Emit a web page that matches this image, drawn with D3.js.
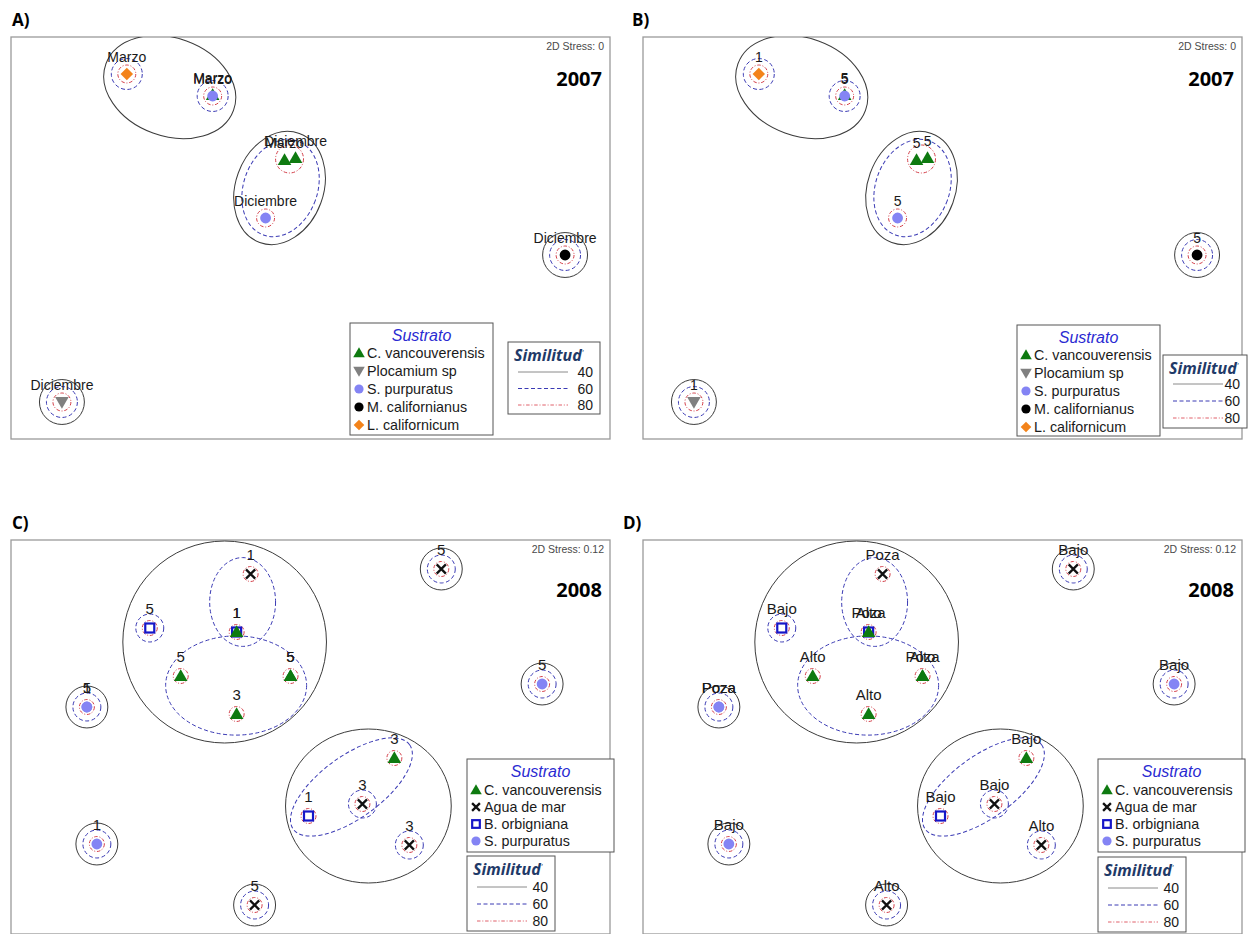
<!DOCTYPE html>
<html>
<head>
<meta charset="utf-8">
<script src="https://cdn.jsdelivr.net/npm/d3@7"></script>
<style>
  body { margin: 0; background: #fff; }
  svg { display: block; }
</style>
</head>
<body>
<svg id="chart" width="1249" height="934"></svg>
<script>
// ---------- 2007 nMDS ordination (panels A and B) ----------
const sustrato2007 = ["C. vancouverensis", "Plocamium sp", "S. purpuratus", "M. californianus", "L. californicum"];
const sample2007Species = ["L. californicum", "C. vancouverensis", "S. purpuratus", "C. vancouverensis",
                           "C. vancouverensis", "S. purpuratus", "M. californianus", "Plocamium sp"];
const sample2007X = [-0.92, -0.49, -0.49, -0.13, -0.075, -0.225, 1.275, -1.245];
const sample2007Y = [0.815, 0.71, 0.705, 0.385, 0.395, 0.095, -0.09, -0.825];
const sample2007Month = ["Marzo", "Marzo", "Marzo", "Marzo", "Diciembre", "Diciembre", "Diciembre", "Diciembre"];
const sample2007Count = ["1", "5", "5", "5", "5", "5", "5", "1"];

// groups enclosing several samples: [centre x, centre y, semi-axis x, semi-axis y, tilt deg, similarity %]
const groups2007 = [
  [-0.705, 0.75, 0.34, 0.245, 20, 40],
  [-0.155, 0.245, 0.22, 0.29, 20, 40],
  [-0.15, 0.245, 0.185, 0.25, 20, 60],
  [-0.105, 0.39, 0.07, 0.07, 0, 80]
];
// samples that form their own group at a given similarity
const ring2007Sample = [0, 0, 2, 2, 5, 6, 6, 6, 7, 7, 7];
const ring2007Level  = [60, 80, 60, 80, 80, 40, 60, 80, 40, 60, 80];
const ring2007Radius = {40: 0.1125, 60: 0.0775, 80: 0.045};

// ---------- 2008 nMDS ordination (panels C and D) ----------
const sustrato2008 = ["C. vancouverensis", "Agua de mar", "B. orbigniana", "S. purpuratus"];
const sample2008Species = ["Agua de mar", "B. orbigniana", "B. orbigniana", "C. vancouverensis",
  "C. vancouverensis", "C. vancouverensis", "C. vancouverensis", "C. vancouverensis",
  "S. purpuratus", "S. purpuratus", "Agua de mar", "S. purpuratus", "C. vancouverensis",
  "Agua de mar", "B. orbigniana", "Agua de mar", "S. purpuratus", "Agua de mar"];
const sample2008X = [-0.30, -0.805, -0.37, -0.37, -0.65, -0.10, -0.10, -0.37, -1.12, -1.12,
                     0.655, 1.16, 0.42, 0.26, -0.01, 0.495, -1.07, -0.28];
const sample2008Y = [0.83, 0.56, 0.54, 0.54, 0.32, 0.32, 0.32, 0.13, 0.165, 0.165,
                     0.855, 0.28, -0.09, -0.32, -0.38, -0.525, -0.52, -0.825];
const sample2008Count = ["1", "5", "1", "1", "5", "5", "5", "3", "1", "5",
                         "5", "5", "3", "3", "1", "3", "1", "5"];
const sample2008Zone = ["Poza", "Bajo", "Poza", "Alto", "Alto", "Poza", "Alto", "Alto", "Poza", "Poza",
                        "Bajo", "Bajo", "Bajo", "Bajo", "Bajo", "Alto", "Bajo", "Alto"];

const groups2008 = [
  [-0.43, 0.49, 0.51, 0.505, 0, 40],
  [-0.34, 0.69, 0.165, 0.222, 0, 60],
  [-0.3725, 0.2725, 0.353, 0.248, 0, 60],
  [0.29, -0.33, 0.415, 0.385, 0, 40],
  [0.205, -0.235, 0.36, 0.155, -36, 60]
];
const ring2008Sample = [0, 1, 1, 2, 4, 5, 7, 8, 8, 8, 10, 10, 10, 11, 11, 11, 12, 13, 13, 14, 15, 15, 16, 16, 16, 17, 17, 17];
const ring2008Level  = [80, 60, 80, 80, 80, 80, 80, 40, 60, 80, 40, 60, 80, 40, 60, 80, 80, 60, 80, 80, 60, 80, 40, 60, 80, 40, 60, 80];
const ring2008Radius = {40: 0.105, 60: 0.07, 80: 0.0375};

// similarity levels shown in the legend
const similitudLevels = [40, 60, 80];

// ---------- styling ----------
const FONT = "'Liberation Sans', Arial, sans-serif";
const HEAD = "'Open Sans', 'Liberation Sans', sans-serif";
const levelStyle = {
  40: {stroke: "#3c3c3c", dash: null, legend: "#8a8a8a"},
  60: {stroke: "#3a3ab4", dash: "4,2.5", legend: "#3a3ab4"},
  80: {stroke: "#d4404a", dash: "3.5,1.8,1,1.8", legend: "#e0606a"}
};
const speciesStyle = {
  "C. vancouverensis": {shape: "tri", fill: "#0e7a10"},
  "Plocamium sp": {shape: "tridown", fill: "#808080"},
  "S. purpuratus": {shape: "circle", fill: "#8484f4"},
  "M. californianus": {shape: "circle", fill: "#000"},
  "L. californicum": {shape: "diamond", fill: "#f3831a"},
  "Agua de mar": {shape: "x", fill: "#111"},
  "B. orbigniana": {shape: "square", fill: "#1616c8"}
};

const svg = d3.select("#chart");

function drawMarker(g, species, px, py, k) {
  const st = speciesStyle[species];
  if (st.shape === "tri") {
    g.append("path").attr("d", d3.symbol(d3.symbolTriangle, 80 * k * k)())
      .attr("transform", `translate(${px},${py + 1})`).attr("fill", st.fill);
  } else if (st.shape === "tridown") {
    g.append("path").attr("d", d3.symbol(d3.symbolTriangle, 80 * k * k)())
      .attr("transform", `translate(${px},${py - 1}) rotate(180)`).attr("fill", st.fill);
  } else if (st.shape === "circle") {
    g.append("path").attr("d", d3.symbol(d3.symbolCircle, 92 * k * k)())
      .attr("transform", `translate(${px},${py})`).attr("fill", st.fill);
  } else if (st.shape === "diamond") {
    g.append("path").attr("d", d3.symbol(d3.symbolSquare, 78 * k * k)())
      .attr("transform", `translate(${px},${py}) rotate(45)`).attr("fill", st.fill);
  } else if (st.shape === "square") {
    const s = 9 * k;
    g.append("rect").attr("x", px - s / 2).attr("y", py - s / 2).attr("width", s).attr("height", s)
      .attr("fill", "#fff").attr("stroke", st.fill).attr("stroke-width", 2.2);
  } else if (st.shape === "x") {
    const h = 4.6 * k;
    g.append("path").attr("d", `M${px - h},${py - h}L${px + h},${py + h}M${px - h},${py + h}L${px + h},${py - h}`)
      .attr("stroke", st.fill).attr("stroke-width", 2.3).attr("fill", "none");
  }
}

function drawPanel(p) {
  const g = svg.append("g").attr("transform", `translate(${p.left},${p.top})`);
  const x = d3.scaleLinear().domain([-1.5, 1.5]).range([0, p.width]);
  const y = d3.scaleLinear().domain([1, 1 - p.height / 200]).range([0, p.height]);
  const rxPx = r => x(r) - x(0);
  const ryPx = r => y(0) - y(r);

  const clipId = "clip" + p.key;
  g.append("clipPath").attr("id", clipId)
    .append("rect").attr("width", p.width).attr("height", p.height);

  // panel tag
  svg.append("text").attr("x", p.tagX).attr("y", p.top - 11)
    .attr("font-family", HEAD).attr("font-weight", 700).attr("font-size", 17).attr("fill", "#000")
    .text(p.tag);

  // frame
  g.append("rect").attr("width", p.width).attr("height", p.height)
    .attr("fill", "#fff").attr("stroke", "#9a9a9a").attr("stroke-width", 1.3);

  const plot = g.append("g").attr("clip-path", `url(#${clipId})`);

  // multi-sample similarity groups
  plot.selectAll("ellipse.grp").data(p.groups).join("ellipse").attr("class", "grp")
    .attr("transform", d => `translate(${x(d[0])},${y(d[1])}) rotate(${d[4]})`)
    .attr("rx", d => rxPx(d[2])).attr("ry", d => ryPx(d[3]))
    .attr("fill", "none")
    .attr("stroke", d => levelStyle[d[5]].stroke)
    .attr("stroke-dasharray", d => levelStyle[d[5]].dash)
    .attr("stroke-width", 1);

  // single-sample rings
  const rings = p.ringSample.map((s, i) => ({s, level: p.ringLevel[i]}));
  plot.selectAll("circle.ring").data(rings).join("circle").attr("class", "ring")
    .attr("cx", d => x(p.xs[d.s])).attr("cy", d => y(p.ys[d.s]))
    .attr("r", d => rxPx(p.ringRadius[d.level]))
    .attr("fill", "none")
    .attr("stroke", d => levelStyle[d.level].stroke)
    .attr("stroke-dasharray", d => levelStyle[d.level].dash)
    .attr("stroke-width", 1);

  // samples
  p.species.forEach((sp, i) => drawMarker(plot, sp, x(p.xs[i]), y(p.ys[i]), 1));

  // sample labels
  plot.selectAll("text.lab").data(p.labels).join("text").attr("class", "lab")
    .attr("x", (d, i) => x(p.xs[i])).attr("y", (d, i) => y(p.ys[i]) - p.labelOffset)
    .attr("text-anchor", "middle").attr("font-family", FONT).attr("font-size", p.labelSize)
    .attr("fill", "#1a1a1a").text(d => d);

  // stress and year
  g.append("text").attr("x", p.width - 6).attr("y", 13).attr("text-anchor", "end")
    .attr("font-family", FONT).attr("font-size", 10.5).attr("fill", "#4a4a4a").text(p.stress);
  g.append("text").attr("x", p.width - 8).attr("y", p.yearY).attr("text-anchor", "end")
    .attr("font-family", HEAD).attr("font-weight", 700).attr("font-size", 20).attr("fill", "#000").text(p.year);

  // Sustrato legend
  const L = p.legend;
  const lg = g.append("g").attr("transform", `translate(${L.x},${L.y})`);
  lg.append("rect").attr("width", L.w).attr("height", L.h).attr("fill", "#fff")
    .attr("stroke", "#555").attr("stroke-width", 1);
  lg.append("text").attr("x", L.w / 2).attr("y", 18).attr("text-anchor", "middle")
    .attr("font-family", FONT).attr("font-style", "italic").attr("font-size", 16).attr("fill", "#2a2ad2")
    .text("Sustrato");
  p.sustrato.forEach((sp, i) => {
    const cy = L.first + i * L.step;
    drawMarker(lg, sp, 9, cy, 0.85);
    lg.append("text").attr("x", 17).attr("y", cy + 5).attr("font-family", FONT).attr("font-size", 14.3)
      .attr("fill", "#1a1a1a").text(sp);
  });

  // Similitud legend
  const S = p.simLegend;
  const sg = g.append("g").attr("transform", `translate(${S.x},${S.y})`);
  sg.append("rect").attr("width", S.w).attr("height", S.h).attr("fill", "#fff")
    .attr("stroke", "#555").attr("stroke-width", 1);
  const st = sg.append("text").attr("x", 6).attr("y", 19).attr("font-family", HEAD)
    .attr("font-style", "italic").attr("font-weight", 700).attr("font-size", 16).attr("fill", "#1f3a68");
  st.append("tspan").text("Similitud");
  st.append("tspan").attr("font-size", 8).attr("dy", -6).attr("font-weight", 400).text("'");
  similitudLevels.forEach((lv, i) => {
    const ly = S.first + i * S.step;
    sg.append("line").attr("x1", 10).attr("x2", 60).attr("y1", ly).attr("y2", ly)
      .attr("stroke", levelStyle[lv].legend).attr("stroke-dasharray", levelStyle[lv].dash)
      .attr("stroke-width", 1);
    sg.append("text").attr("x", S.w - 7).attr("y", ly + 5).attr("text-anchor", "end")
      .attr("font-family", FONT).attr("font-size", 14).attr("fill", "#1a1a1a").text(lv);
  });
}

const common2007 = {
  width: 599, height: 402, species: sample2007Species, xs: sample2007X, ys: sample2007Y,
  groups: groups2007, ringSample: ring2007Sample, ringLevel: ring2007Level, ringRadius: ring2007Radius,
  sustrato: sustrato2007, stress: "2D Stress: 0", year: "2007", yearY: 49, labelSize: 14, labelOffset: 12
};
const common2008 = {
  width: 599, height: 394, species: sample2008Species, xs: sample2008X, ys: sample2008Y,
  groups: groups2008, ringSample: ring2008Sample, ringLevel: ring2008Level, ringRadius: ring2008Radius,
  sustrato: sustrato2008, stress: "2D Stress: 0.12", year: "2008", yearY: 57, labelSize: 15, labelOffset: 14
};

drawPanel(Object.assign({}, common2007, {
  key: "A", tag: "A)", tagX: 12, left: 11, top: 37, labels: sample2007Month,
  legend: {x: 339, y: 286, w: 143, h: 112, first: 30, step: 18},
  simLegend: {x: 497, y: 305, w: 92, h: 72, first: 30, step: 16.5}
}));
drawPanel(Object.assign({}, common2007, {
  key: "B", tag: "B)", tagX: 632, left: 643, top: 37, labels: sample2007Count,
  legend: {x: 374, y: 288, w: 143, h: 111, first: 30, step: 18},
  simLegend: {x: 520, y: 318, w: 84, h: 73, first: 29, step: 17}
}));
drawPanel(Object.assign({}, common2008, {
  key: "C", tag: "C)", tagX: 12, left: 11, top: 540, labels: sample2008Count,
  legend: {x: 456, y: 219, w: 147, h: 93, first: 31, step: 17},
  simLegend: {x: 456, y: 316, w: 88, h: 75, first: 31, step: 17}
}));
drawPanel(Object.assign({}, common2008, {
  key: "D", tag: "D)", tagX: 623, left: 643, top: 540, labels: sample2008Zone,
  legend: {x: 455, y: 219, w: 147, h: 93, first: 31, step: 17},
  simLegend: {x: 455, y: 317, w: 88, h: 75, first: 31, step: 17}
}));
</script>
</body>
</html>
